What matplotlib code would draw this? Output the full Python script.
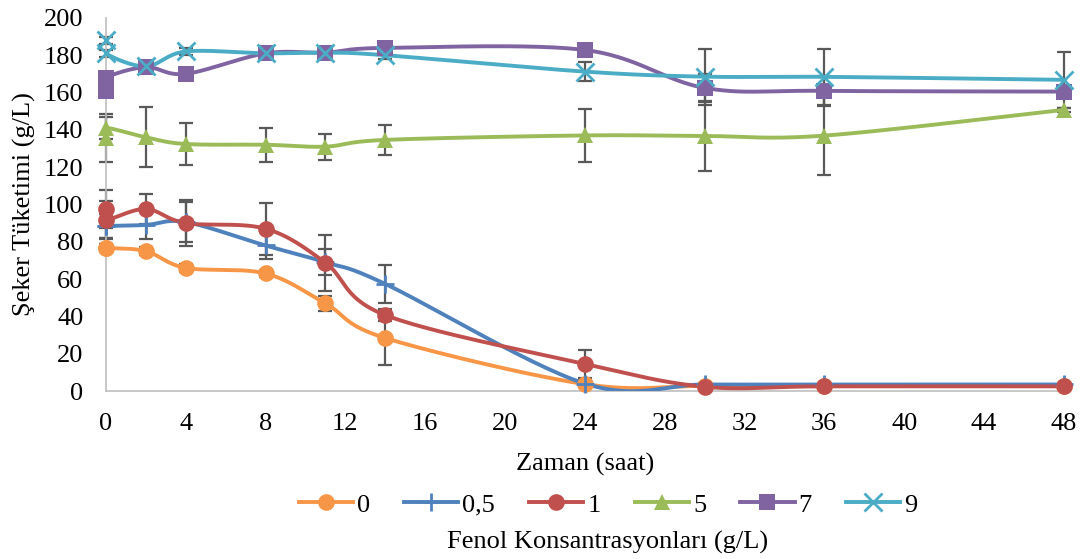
import numpy as np
import matplotlib
matplotlib.use('Agg')
import matplotlib.pyplot as plt
from matplotlib.lines import Line2D

plt.rcParams['font.family'] = ['Liberation Serif', 'DejaVu Serif']

# saat (time); 0 appears twice because the data has two readings at t=0
saat = [0, 0, 2, 4, 8, 11, 14, 24, 30, 36, 48]

seker_0 = [76.7, 76.7, 75.0, 66.0, 63.0, 47.0, 28.4, 3.7, 2.7, 2.7, 2.7]
seker_05 = [88.5, 88.5, 89.0, 90.6, 78.0, 69.0, 57.4, 4.0, 3.5, 3.5, 3.5]
seker_1 = [97.6, 91.7, 97.6, 90.0, 87.0, 68.8, 40.7, 14.5, 2.3, 2.5, 2.5]
seker_5 = [135.7, 141.0, 136.0, 132.4, 132.0, 131.0, 134.6, 137.0, 136.7, 136.9, 150.7]
seker_7 = [160.8, 167.8, 173.6, 170.0, 181.0, 181.4, 183.9, 182.8, 162.5, 160.9, 160.5]
seker_9 = [188.0, 181.0, 174.0, 182.0, 181.0, 181.4, 180.0, 171.2, 168.5, 168.4, 166.8]

hata_0 = [2, 2, 2, 2, 2, 4, 14.4, 1, 1, 1, 1]
hata_05 = [6.5, 6.5, 7.5, 10.6, 7, 7, 10, 2, 1, 1, 1]
hata_1 = [10, 10, 8, 12.5, 14, 15, 3, 7.5, 1, 1, 1]
hata_5 = [13, 6, 16, 11, 9, 7, 8, 14, 19, 21, 1]
hata_7 = [2, 2, 2, 2, 2, 2, 2, 2, 7.5, 8, 2]
hata_9 = [2, 2, 3, 2, 2, 2, 2, 5, 15, 15, 15]

etiketler = ['0', '0,5', '1', '5', '7', '9']
renkler = ['#F79646', '#4F81BD', '#C0504D', '#9BBB59', '#8064A2', '#4BACC6']
isaretler = ['o', '+', 'o', '^', 's', 'x']
seriler = [seker_0, seker_05, seker_1, seker_5, seker_7, seker_9]
hatalar = [hata_0, hata_05, hata_1, hata_5, hata_7, hata_9]


def smooth(x, y, n=30):
    # Excel-style smoothed line (Catmull-Rom as cubic Bezier)
    p = np.column_stack([x, y]).astype(float)
    xs, ys = [], []
    for i in range(len(p) - 1):
        p0 = p[i - 1] if i > 0 else p[i]
        p1 = p[i]
        p2 = p[i + 1]
        p3 = p[i + 2] if i + 2 < len(p) else p[i + 1]
        c1 = p1 + (p2 - p0) / 6
        c2 = p2 - (p3 - p1) / 6
        t = np.linspace(0, 1, n)[:, None]
        b = (1 - t) ** 3 * p1 + 3 * (1 - t) ** 2 * t * c1 + 3 * (1 - t) * t ** 2 * c2 + t ** 3 * p2
        xs.extend(b[:, 0])
        ys.extend(b[:, 1])
    return np.array(xs), np.array(ys)


def marker_style(m):
    if m in ('+', 'x'):
        return dict(marker=m, ms=13, mew=2)
    return dict(marker=m, ms=12, mew=0)


fig = plt.figure(figsize=(10.8, 5.59), dpi=100)
ax = fig.add_axes([0.098, 0.3005, 0.887, 0.6675])

for y, e, c, m, lab in zip(seriler, hatalar, renkler, isaretler, etiketler):
    ax.errorbar(saat, y, yerr=e, fmt='none', ecolor='#595959', elinewidth=1.6,
                capsize=5, capthick=1.6, zorder=2, clip_on=False)
    sx, sy = smooth(saat, y)
    ax.plot(sx, sy, color=c, lw=2.8, zorder=3)
    ax.plot(saat, y, ls='none', color=c, zorder=4, clip_on=False, **marker_style(m))

ax.set_xlim(0, 48)
ax.set_ylim(0, 200)
ax.set_xticks(np.arange(0, 49, 4))
ax.set_yticks(np.arange(0, 201, 20))
ax.tick_params(length=0, labelsize=19, pad=16)
for s in ['top', 'right']:
    ax.spines[s].set_visible(False)
for s in ['left', 'bottom']:
    ax.spines[s].set_color('#BFBFBF')
    ax.spines[s].set_linewidth(1.2)

ax.set_xlabel('Zaman (saat)', fontsize=19, labelpad=13)
ax.set_ylabel('Şeker Tüketimi (g/L)', fontsize=19, labelpad=6)

handles = [Line2D([], [], color=c, lw=2.8, **marker_style(m)) for c, m in zip(renkler, isaretler)]
fig.legend(handles, etiketler, loc='center', bbox_to_anchor=(0.563, 0.097), ncol=6,
           frameon=False, fontsize=19, handlelength=2.05, columnspacing=1.3,
           handletextpad=0.15, borderpad=0)
fig.text(0.563, 0.029, 'Fenol Konsantrasyonları (g/L)', ha='center', va='center', fontsize=19)

fig.savefig('out.png', dpi=100)
